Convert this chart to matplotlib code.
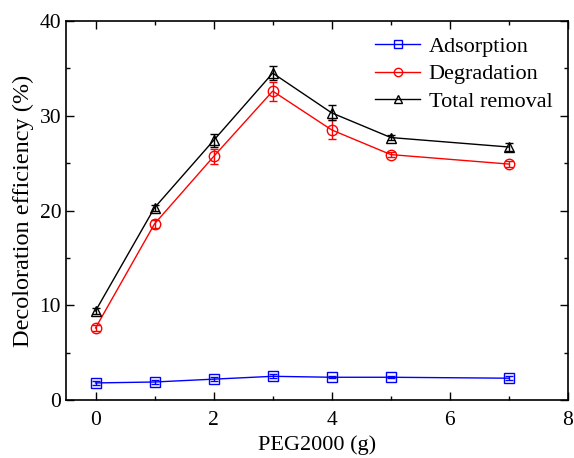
import matplotlib
matplotlib.use('Agg')
import matplotlib.pyplot as plt
from matplotlib.ticker import MultipleLocator

plt.rcParams['font.family'] = ['Liberation Serif', 'DejaVu Serif']
plt.rcParams['mathtext.fontset'] = 'stix'

# data
peg = [0, 1, 2, 3, 4, 5, 7]
adsorption = [1.8, 1.9, 2.2, 2.5, 2.4, 2.4, 2.3]
adsorption_err = [0.2, 0.2, 0.2, 0.2, 0.1, 0.1, 0.2]
degradation = [7.6, 18.6, 25.7, 32.6, 28.5, 25.9, 24.9]
degradation_err = [0.3, 0.4, 0.8, 1.0, 1.0, 0.3, 0.3]
total = [9.4, 20.3, 27.4, 34.5, 30.3, 27.7, 26.7]
total_err = [0.3, 0.3, 0.7, 0.7, 0.8, 0.3, 0.4]

fig = plt.figure(figsize=(5.74, 4.58), dpi=100)
ax = fig.add_axes([66/574, 1 - 400/458, (568-66)/574, (400-21)/458])

ms = 7.5
kw = dict(mfc='none', ms=ms, lw=1, capsize=3, elinewidth=1, mew=1)
ax.errorbar(peg, adsorption, yerr=adsorption_err, color='b', marker='s', label='Adsorption', **kw)
ax.errorbar(peg, degradation, yerr=degradation_err, color='r', marker='o', label='Degradation', **kw)
ax.errorbar(peg, total, yerr=total_err, color='k', marker='^', label='Total removal', **kw)

ax.set_xlim(-0.5, 8)
ax.set_ylim(0, 40)
ax.xaxis.set_major_locator(MultipleLocator(2))
ax.xaxis.set_minor_locator(MultipleLocator(1))
ax.yaxis.set_major_locator(MultipleLocator(10))
ax.yaxis.set_minor_locator(MultipleLocator(5))
ax.tick_params(which='both', direction='in', top=True, right=True, labelsize=15.5, width=1)
ax.tick_params(which='major', length=6)
ax.tick_params(which='minor', length=3)
ax.tick_params(axis='x', pad=8)
for s in ax.spines.values():
    s.set_linewidth(1.2)

ax.set_xlabel('PEG2000 (g)', fontsize=16)
ax.set_ylabel('Decoloration efficiency (%)', fontsize=17.5)

handles, labels = ax.get_legend_handles_labels()
handles = [h[0] for h in handles]
ax.legend(handles, labels, loc='upper right', frameon=False, fontsize=16,
          handlelength=2.0, handletextpad=0.4, labelspacing=0.3,
          borderaxespad=0.3, markerscale=0.8)

fig.savefig('out.png', dpi=100)
